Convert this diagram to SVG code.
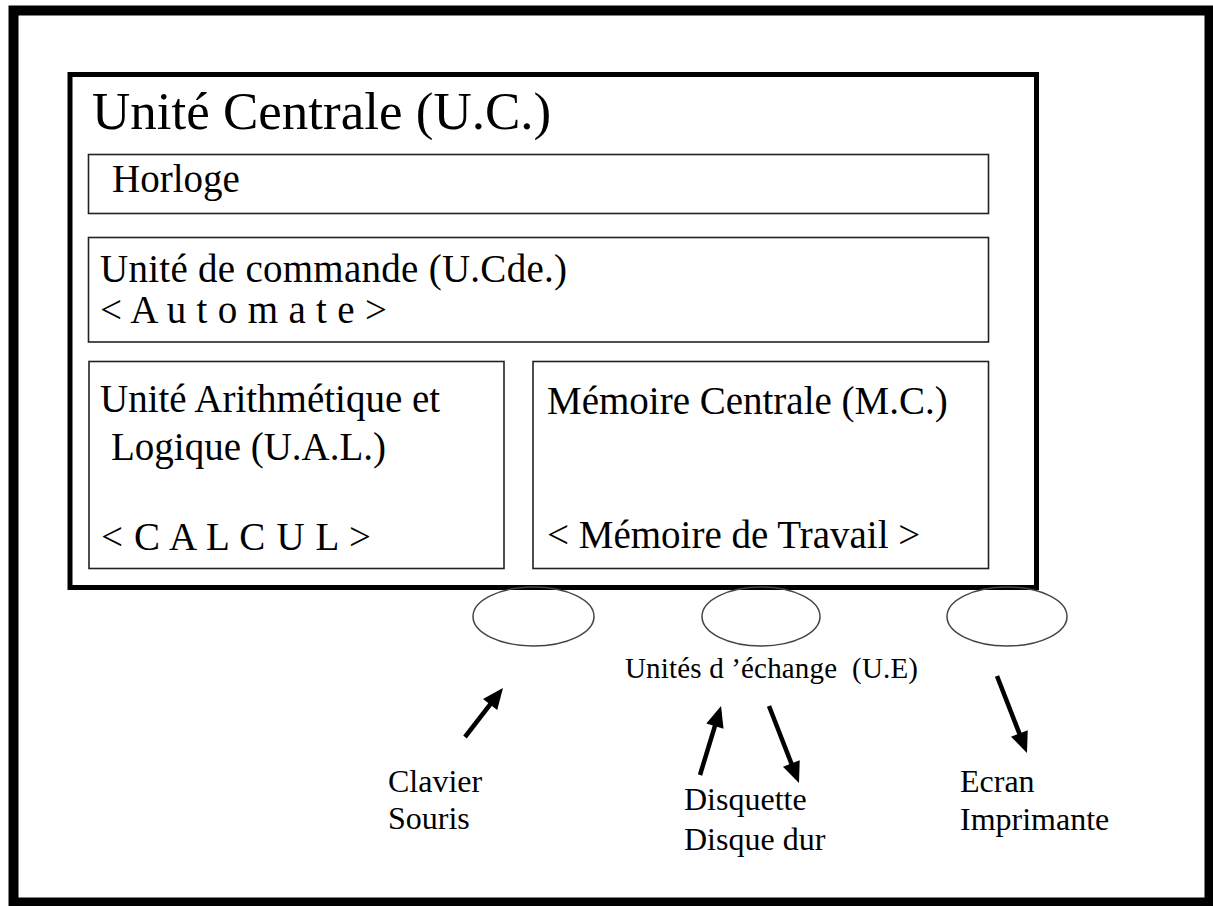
<svg xmlns="http://www.w3.org/2000/svg" width="1213" height="906" viewBox="0 0 1213 906">
<style>
text{font-family:"Liberation Serif","Times New Roman",serif;fill:#000}
.box{fill:none;stroke:#222;stroke-width:1.6}
.t39{font-size:39px}
.t32{font-size:32px}
.eu{fill:none;stroke:#444;stroke-width:1.5}
.arr{stroke:#000;stroke-width:4.5;fill:none;marker-end:url(#ah)}
</style>
<defs>
<marker id="ah" markerUnits="userSpaceOnUse" markerWidth="24" markerHeight="20" refX="15" refY="9" orient="auto" overflow="visible">
<path d="M0,0 L21,9 L0,18 z" fill="#000"/>
</marker>
</defs>
<rect width="1213" height="906" fill="#fff"/>
<rect id="frame" x="13.5" y="10.5" width="1196" height="892" fill="none" stroke="#000" stroke-width="10"/>
<g id="uc">
<rect x="70" y="74.5" width="966.5" height="513" fill="none" stroke="#000" stroke-width="5"/>
<text x="92" y="129" font-size="53">Unité Centrale (U.C.)</text>
</g>
<g id="horloge">
<rect class="box" x="88.5" y="154.5" width="900" height="59"/>
<text class="t39" x="112" y="192">Horloge</text>
</g>
<g id="commande">
<rect class="box" x="88.5" y="237.5" width="900" height="104.5"/>
<text class="t39" x="100" y="282" textLength="467">Unité de commande (U.Cde.)</text>
<text class="t39" x="100" y="323" textLength="287">&lt; A u t o m a t e &gt;</text>
</g>
<g id="ual">
<rect class="box" x="89" y="361.5" width="415" height="207"/>
<text class="t39" x="100" y="412">Unité Arithmétique et</text>
<text class="t39" x="111" y="460">Logique (U.A.L.)</text>
<text class="t39" x="101" y="550" textLength="270">&lt; C A L C U L &gt;</text>
</g>
<g id="mc">
<rect class="box" x="533" y="361.5" width="455.5" height="207"/>
<text class="t39" x="547" y="414">Mémoire Centrale (M.C.)</text>
<text class="t39" x="547" y="548">&lt; Mémoire de Travail &gt;</text>
</g>
<g id="ue">
<ellipse class="eu" cx="533.5" cy="616.5" rx="60.5" ry="29.5"/>
<ellipse class="eu" cx="761" cy="616.5" rx="59" ry="29.5"/>
<ellipse class="eu" cx="1007" cy="616.5" rx="60" ry="29.5"/>
<text x="625" y="678" font-size="29" textLength="293" xml:space="preserve">Unités d ’échange  (U.E)</text>
</g>
<g id="entree">
<text class="t32" x="388" y="792">Clavier</text>
<text class="t32" x="388" y="829">Souris</text>
</g>
<g id="stockage">
<text class="t32" x="684" y="810">Disquette</text>
<text class="t32" x="684" y="850">Disque dur</text>
</g>
<g id="sortie">
<text class="t32" x="960" y="792">Ecran</text>
<text class="t32" x="960" y="830">Imprimante</text>
</g>
<g id="connectors">
<line class="arr" x1="465" y1="737" x2="499.3" y2="692.7"/>
<line class="arr" x1="700" y1="775" x2="719.3" y2="711.7"/>
<line class="arr" x1="769" y1="706" x2="796.8" y2="777.4"/>
<line class="arr" x1="997" y1="676" x2="1024.8" y2="747.4"/>
</g>
</svg>
